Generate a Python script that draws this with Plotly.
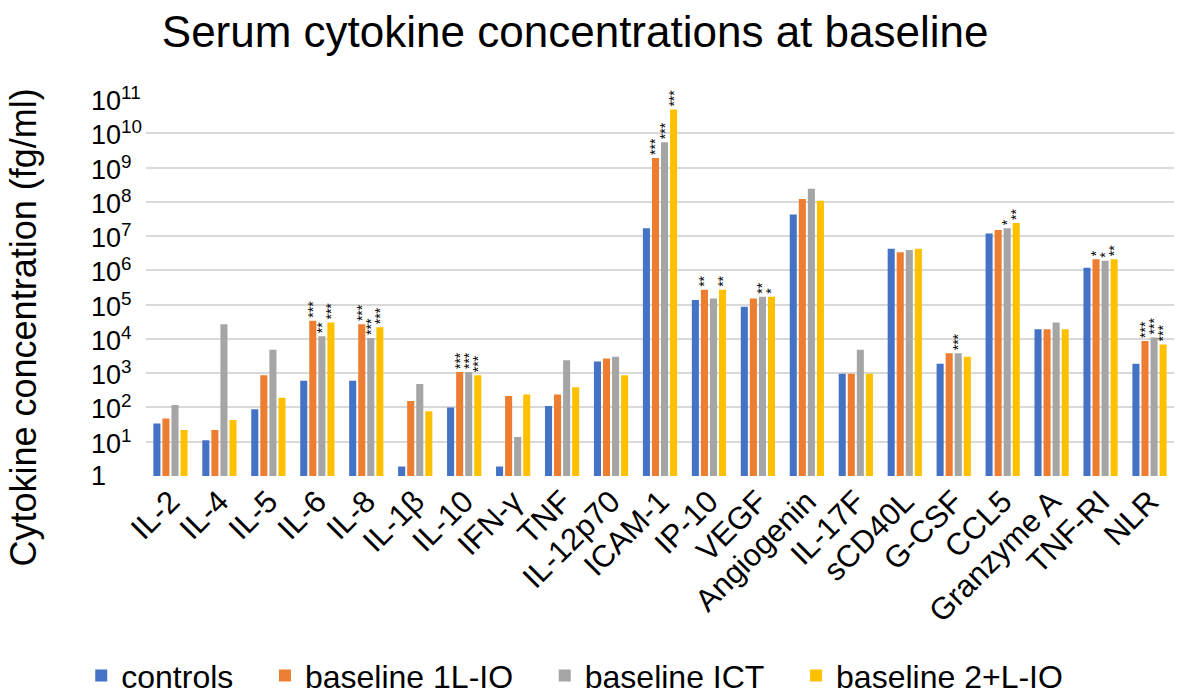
import plotly.graph_objects as go

# categories and series (fg/ml)
cytokines = ["IL-2", "IL-4", "IL-5", "IL-6", "IL-8", "IL-1β", "IL-10", "IFN-γ", "TNF",
             "IL-12p70", "ICAM-1", "IP-10", "VEGF", "Angiogenin", "IL-17F", "sCD40L",
             "G-CSF", "CCL5", "Granzyme A", "TNF-RI", "NLR"]

controls = [34, 11, 88, 605, 605, 1.9, 100, 1.9, 110,
            2200, 1.7e7, 1.37e5, 8.7e4, 4.3e7, 970, 4.3e6,
            1900, 1.2e7, 1.9e4, 1.2e6, 1900]
first_line_io = [48, 22, 870, 3.4e4, 2.7e4, 155, 1080, 216, 240,
                 2700, 1.9e9, 2.7e5, 1.5e5, 1.2e8, 970, 3.4e6,
                 3800, 1.5e7, 1.9e4, 2.1e6, 8700]
ict = [118, 2.7e4, 4800, 1.2e4, 1.07e4, 480, 1080, 13.8, 2400,
       3000, 5.5e9, 1.5e5, 1.7e5, 2.4e8, 4800, 3.9e6,
       3800, 1.7e7, 3.0e4, 1.9e6, 1.1e4]
later_line_io = [22, 43, 193, 3.0e4, 2.2e4, 77, 870, 240, 388,
                 870, 4.9e10, 2.7e5, 1.7e5, 1.08e8, 970, 4.3e6,
                 3000, 2.4e7, 1.9e4, 2.1e6, 6900]

# significance marks vs controls
stars_1l = ["", "", "", "***", "***", "", "***", "", "", "", "***", "**", "",
            "", "", "", "", "", "", "*", "***"]
stars_ict = ["", "", "", "**", "***", "", "***", "", "", "", "***", "", "**",
             "", "", "", "***", "*", "", "*", "***"]
stars_2l = ["", "", "", "***", "***", "", "***", "", "", "", "***", "**", "*",
            "", "", "", "", "**", "", "**", "***"]
stars_ctrl = [""] * len(cytokines)

# y axis decades
exps = list(range(0, 12))
tick_labels = ["1"] + [f"10<sup>{e}</sup>" for e in exps[1:]]

series = [
    ("controls", controls, stars_ctrl, "#4472C4"),
    ("baseline 1L-IO", first_line_io, stars_1l, "#ED7D31"),
    ("baseline ICT", ict, stars_ict, "#A5A5A5"),
    ("baseline 2+L-IO", later_line_io, stars_2l, "#FFC000"),
]

font = "Liberation Sans, Arial, sans-serif"
pad = "\u00a0" * 3  # wider legend spacing, as in the original

fig = go.Figure()
for name, vals, stars, color in series:
    fig.add_trace(go.Bar(
        x=cytokines, y=vals, name=name + pad,
        marker=dict(color=color, line=dict(width=0)),
        text=stars, textposition="outside", textangle=-90,
        textfont=dict(size=14, color="black", family=font),
        constraintext="none", cliponaxis=False,
    ))

# left-aligned tick labels, like the original
for e, lab in zip(exps, tick_labels):
    fig.add_annotation(x=-0.055, xref="paper", xanchor="left", y=e, yref="y",
                       yanchor="middle", text=lab, showarrow=False,
                       font=dict(size=27, family=font, color="black"))

fig.add_annotation(x=-0.119, xref="paper", xanchor="center", y=0.393, yref="paper",
                   yanchor="middle", text="Cytokine concentration (fg/ml)",
                   textangle=-90, showarrow=False,
                   font=dict(size=36, family=font, color="black"))

fig.update_layout(
    width=1181, height=692,
    barmode="group", bargap=0.26, bargroupgap=0.22,
    plot_bgcolor="white", paper_bgcolor="white",
    font=dict(family=font, color="black"),
    title=dict(text="Serum cytokine concentrations at baseline",
               x=0.487, xanchor="center", y=0.955, yanchor="middle",
               font=dict(size=44, family=font, color="black")),
    margin=dict(l=146, r=7, t=99, b=216, autoexpand=False),
    showlegend=True,
    legend=dict(orientation="h", x=-0.063, xanchor="left", y=-0.530, yanchor="middle",
                font=dict(size=32, family=font), itemwidth=30,
                traceorder="normal", itemclick=False),
)
fig.update_xaxes(
    type="category", tickangle=-45, tickfont=dict(size=31, family=font),
    showline=False, showgrid=False, ticks="", automargin=False,
)
fig.update_yaxes(
    type="log", range=[0, 11], tickvals=[10 ** e for e in exps],
    showticklabels=False, automargin=False,
    showgrid=True, gridcolor="#D9D9D9", gridwidth=2,
    zeroline=False, showline=False, ticks="",
)

# no page margin, so the figure fills the window exactly
fig.write_html("out.html", config={"displayModeBar": False},
               post_script="document.body.style.margin='0';document.body.style.overflow='hidden';")
